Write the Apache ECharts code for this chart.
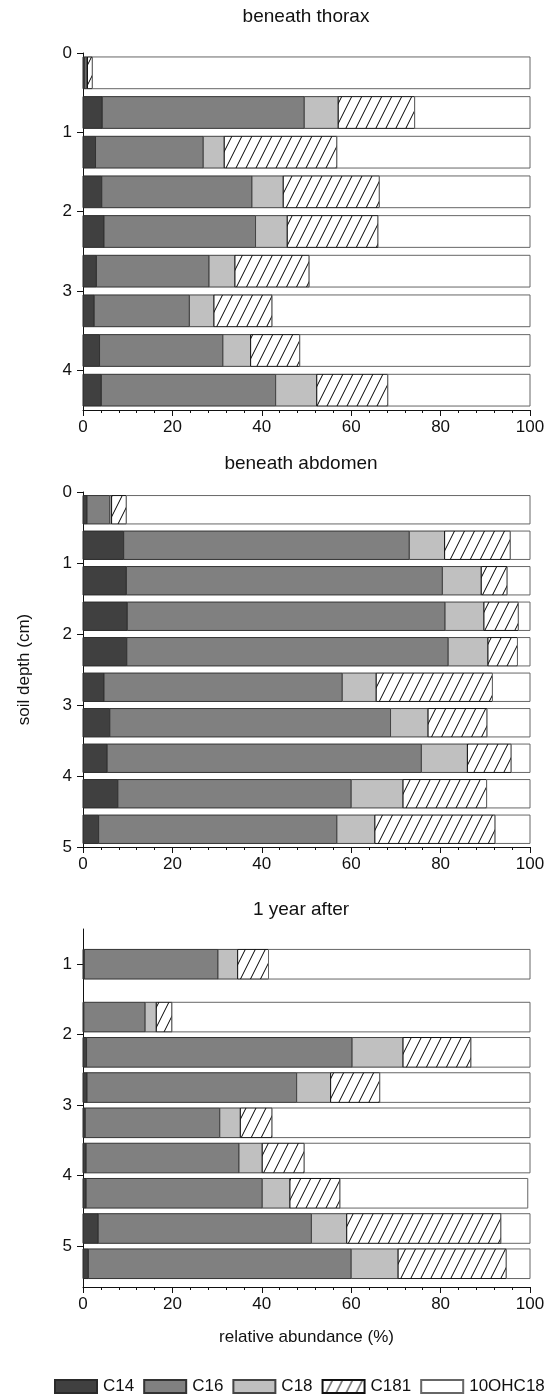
<!DOCTYPE html>
<html>
<head>
<meta charset="utf-8">
<script src="https://cdn.jsdelivr.net/npm/echarts@6/dist/echarts.min.js"></script>
<style>
  html, body { margin: 0; padding: 0; background: #fff; }
  #chart { width: 547px; height: 1397px; }
</style>
</head>
<body>
<div id="chart"></div>
<script>
// Fatty-acid composition (%) of soil layers, three sampling situations
const componentNames = ['C14', 'C16', 'C18', 'C181', '10OHC18'];
const panelTitles = ['beneath thorax', 'beneath abdomen', '1 year after'];
const xTickValues = [0, 20, 40, 60, 80, 100];

// beneath thorax
const thoraxDepth = [0.25, 0.75, 1.25, 1.75, 2.25, 2.75, 3.25, 3.75, 4.25];
const thoraxC14   = [0.4, 4.3, 2.8, 4.2, 4.7, 3.0, 2.5, 3.7, 4.1];
const thoraxC16   = [0.5, 45.2, 24.1, 33.6, 33.9, 25.2, 21.3, 27.6, 39.0];
const thoraxC18   = [0.1, 7.6, 4.7, 7.0, 7.1, 5.8, 5.5, 6.2, 9.2];
const thoraxC181  = [1.1, 17.1, 25.2, 21.5, 20.3, 16.6, 13.0, 11.0, 15.9];
const thoraxOH    = [97.9, 25.8, 43.2, 33.7, 34.0, 49.4, 57.7, 51.5, 31.8];
const thoraxTicks = [0, 1, 2, 3, 4];

// beneath abdomen
const abdomenDepth = [0.25, 0.75, 1.25, 1.75, 2.25, 2.75, 3.25, 3.75, 4.25, 4.75];
const abdomenC14   = [0.9, 9.1, 9.7, 9.9, 9.8, 4.7, 6.0, 5.4, 7.8, 3.5];
const abdomenC16   = [5.1, 63.9, 70.7, 71.1, 71.9, 53.3, 62.8, 70.3, 52.2, 53.3];
const abdomenC18   = [0.4, 7.9, 8.7, 8.7, 8.9, 7.6, 8.4, 10.3, 11.6, 8.5];
const abdomenC181  = [3.3, 14.7, 5.8, 7.7, 6.6, 26.0, 13.2, 9.8, 18.7, 26.9];
const abdomenOH    = [90.3, 4.4, 5.1, 2.6, 2.8, 8.4, 9.6, 4.2, 9.7, 7.8];
const abdomenTicks = [0, 1, 2, 3, 4, 5];

// 1 year after
const yearDepth = [1.0, 1.75, 2.25, 2.75, 3.25, 3.75, 4.25, 4.75, 5.25];
const yearC14   = [0.3, 0.2, 0.8, 0.9, 0.5, 0.7, 0.7, 3.4, 1.2];
const yearC16   = [29.9, 13.7, 59.4, 46.9, 30.1, 34.2, 39.4, 47.7, 58.8];
const yearC18   = [4.4, 2.5, 11.4, 7.6, 4.6, 5.2, 6.2, 7.9, 10.5];
const yearC181  = [6.9, 3.5, 15.2, 11.0, 7.1, 9.4, 11.2, 34.5, 24.2];
const yearOH    = [58.5, 80.1, 13.2, 33.6, 57.7, 50.5, 42.0, 6.5, 5.3];
const yearTicks = [1, 2, 3, 4, 5];

const FONT = "'Liberation Sans', Arial, sans-serif";

// diagonal hatch used for C181
function makeHatch() {
  const c = document.createElement('canvas');
  c.width = 10; c.height = 20;
  const g = c.getContext('2d');
  g.fillStyle = '#fff';
  g.fillRect(0, 0, 10, 20);
  g.strokeStyle = '#000';
  g.lineWidth = 1;
  g.beginPath();
  g.moveTo(-1, 22); g.lineTo(11, -2);
  g.moveTo(-11, 22); g.lineTo(1, -2);
  g.moveTo(9, 22); g.lineTo(21, -2);
  g.stroke();
  return c;
}
const hatch = { image: makeHatch(), repeat: 'repeat' };

const fills   = ['#404040', '#808080', '#c0c0c0', hatch, '#ffffff'];
const strokes = ['#2a2a2a', '#333333', '#444444', '#111111', '#666666'];

const panels = [
  { depth: thoraxDepth, parts: [thoraxC14, thoraxC16, thoraxC18, thoraxC181, thoraxOH],
    ticks: thoraxTicks, top: 53, height: 357, min: 0, max: 4.5, barH: 0.40, titleX: 306, titleTop: 7 },
  { depth: abdomenDepth, parts: [abdomenC14, abdomenC16, abdomenC18, abdomenC181, abdomenOH],
    ticks: abdomenTicks, top: 492, height: 355, min: 0, max: 5, barH: 0.40, titleX: 301, titleTop: 454 },
  { depth: yearDepth, parts: [yearC14, yearC16, yearC18, yearC181, yearOH],
    ticks: yearTicks, top: 929, height: 358, min: 0.5, max: 5.58, barH: 0.42, titleX: 301, titleTop: 900 }
];

const grids = [], xAxes = [], yAxes = [], series = [], titles = [];

panels.forEach((p, pi) => {
  grids.push({ left: 83, width: 447, top: p.top, height: p.height, outerBoundsMode: 'none', containLabel: false });

  titles.push({
    text: panelTitles[pi], left: p.titleX, top: p.titleTop, textAlign: 'center', padding: 0,
    textStyle: { fontFamily: FONT, fontSize: 19, fontWeight: 'normal', color: '#111' }
  });

  const last = pi === panels.length - 1;
  xAxes.push({
    type: 'value', gridIndex: pi, min: 0, max: 100, interval: 20,
    axisLine: { show: true, onZero: false, lineStyle: { color: '#111', width: 1 } },
    axisTick: { show: true, inside: false, length: 6, lineStyle: { color: '#111' } },
    minorTick: { show: true, splitNumber: 5, length: 3, lineStyle: { color: '#111' } },
    axisLabel: { customValues: xTickValues, margin: 9, fontFamily: FONT, fontSize: 17, color: '#111' },
    splitLine: { show: false }, minorSplitLine: { show: false },
    name: last ? 'relative abundance (%)' : '',
    nameLocation: 'middle', nameGap: 42,
    nameTextStyle: { fontFamily: FONT, fontSize: 17, color: '#111' }
  });

  yAxes.push({
    type: 'value', gridIndex: pi, inverse: true, min: p.min, max: p.max,
    axisLine: { show: true, onZero: false, lineStyle: { color: '#111', width: 1 } },
    axisTick: { show: true, inside: false, length: 6, customValues: p.ticks, lineStyle: { color: '#111' } },
    axisLabel: { customValues: p.ticks, margin: 11, fontFamily: FONT, fontSize: 17, color: '#111' },
    splitLine: { show: false },
    name: pi === 1 ? 'soil depth (cm)' : '',
    nameLocation: 'middle', nameGap: 50, nameRotate: 90,
    nameTextStyle: { fontFamily: FONT, fontSize: 17, color: '#111' }
  });

  // stacked segments: each component starts where the previous one ended
  const starts = p.depth.map(() => 0);
  p.parts.forEach((vals, k) => {
    const data = p.depth.map((d, i) => {
      const s = starts[i];
      starts[i] = s + vals[i];
      return [d, s, s + vals[i]];
    });
    const barH = p.barH;
    series.push({
      type: 'custom', name: componentNames[k], xAxisIndex: pi, yAxisIndex: pi,
      silent: true, clip: false,
      itemStyle: { color: fills[k], borderColor: strokes[k], borderWidth: 1 },
      encode: { x: [1, 2], y: 0 },
      data: data,
      renderItem: function (params, api) {
        const y = api.value(0);
        const a = api.coord([api.value(1), y]);
        const b = api.coord([api.value(2), y]);
        const h = api.size([0, barH])[1];
        return {
          type: 'rect',
          shape: { x: a[0], y: a[1] - h / 2, width: b[0] - a[0], height: h },
          style: { fill: fills[k], stroke: strokes[k], lineWidth: 1 }
        };
      }
    });
  });
});

const chart = echarts.init(document.getElementById('chart'), null, { renderer: 'canvas' });
chart.setOption({
  animation: false,
  backgroundColor: '#ffffff',
  textStyle: { fontFamily: FONT },
  title: titles,
  grid: grids,
  xAxis: xAxes,
  yAxis: yAxes,
  legend: {
    data: componentNames, left: 54, top: 1378, width: 600, padding: 0,
    orient: 'horizontal', icon: 'rect',
    itemWidth: 42, itemHeight: 13, itemGap: 9, selectedMode: false,
    textStyle: { fontFamily: FONT, fontSize: 17, color: '#111', padding: [0, 0, 0, 1] }
  },
  series: series
});
</script>
</body>
</html>
